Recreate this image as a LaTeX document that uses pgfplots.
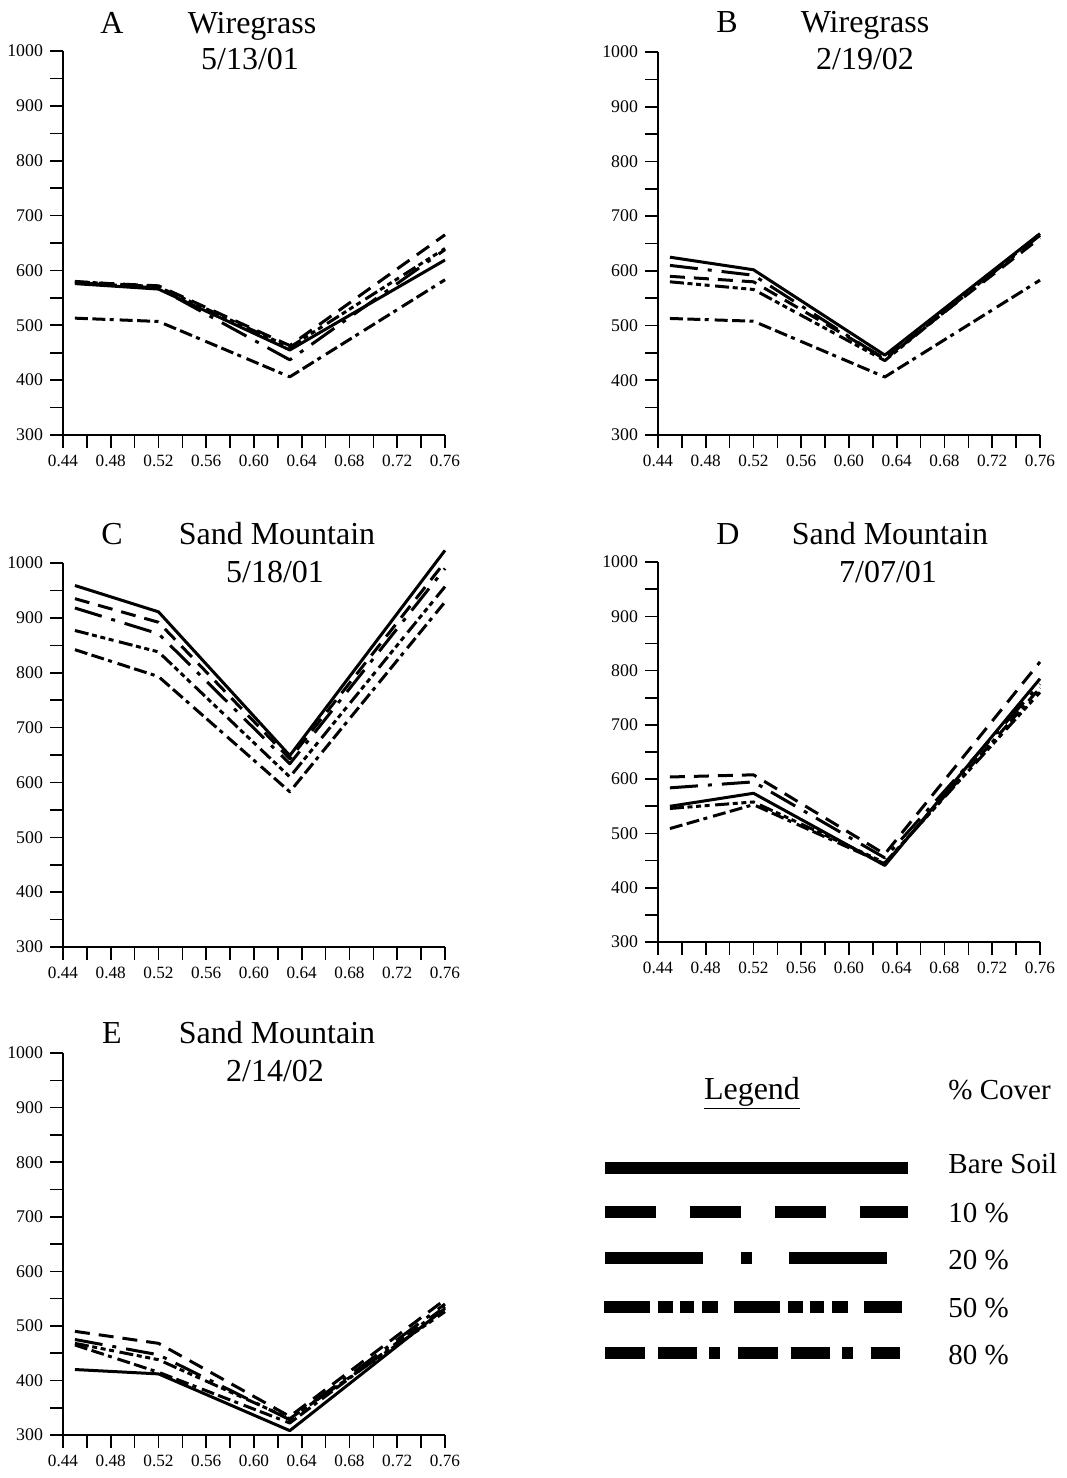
\documentclass[border=0pt]{standalone}
\usepackage{fontspec}
\setmainfont{Liberation Serif}
\usepackage{pgfplots}
\usepackage{pgfplotstable}
\pgfplotsset{compat=1.18}

% reflectance by wavelength (um), one column per % cover
\pgfplotstableread{
x     bare  c10  c20  c50  c80
0.45  576   579  578  580  513
0.52  566   572  568  570  507
0.63  455   463  437  460  406
0.76  619   665  638  640  583
}\dataA
\pgfplotstableread{
x     bare  c10  c20  c50  c80
0.45  625   590  610  580  513
0.52  602   580  592  566  508
0.63  446   440  438  436  406
0.76  668   660  665  668  583
}\dataB
\pgfplotstableread{
x     bare  c10  c20  c50  c80
0.45  959   935  918  877  842
0.52  911   892  871  838  793
0.63  649   643  634  610  583
0.76  1023  1002 990  957  929
}\dataC
\pgfplotstableread{
x     bare  c10  c20  c50  c80
0.45  550   604  584  546  509
0.52  574   608  595  558  553
0.63  441   462  455  446  444
0.76  785   816  775  760  768
}\dataD
\pgfplotstableread{
x     bare  c10  c20  c50  c80
0.45  420   490  475  468  465
0.52  412   468  447  438  415
0.63  308   334  328  330  322
0.76  532   548  540  526  535
}\dataE

\tikzset{
  bare/.style={solid},
  c10/.style={dash pattern=on 7.5pt off 4.5pt},
  c20/.style={dash pattern=on 14pt off 5pt on 2pt off 5pt},
  c50/.style={dash pattern=on 7pt off 1.8pt on 2.5pt off 1.8pt on 2.5pt off 1.8pt on 2.5pt off 2.8pt},
  c80/.style={dash pattern=on 6.5pt off 2.2pt on 6.5pt off 2.2pt on 2pt off 3pt},
}

\pgfplotsset{
  panel/.style={
    scale only axis, width=191pt, anchor=south west,
    xmin=0.44, xmax=0.76, ymin=300, ymax=1000,
    axis lines=left, axis line style={-, line width=0.8pt},
    clip=false,
    xtick={0.44,0.48,0.52,0.56,0.60,0.64,0.68,0.72,0.76},
    xticklabels={0.44,0.48,0.52,0.56,0.60,0.64,0.68,0.72,0.76},
    minor xtick={0.46,0.50,0.54,0.58,0.62,0.66,0.70,0.74},
    ytick={300,400,500,600,700,800,900,1000},
    yticklabels={300,400,500,600,700,800,900,1000},
    minor ytick={350,450,550,650,750,850,950},
    tick align=outside, major tick length=6.5pt, minor tick length=6.5pt,
    tick style={black, line width=0.8pt},
    xticklabel style={font=\fontsize{8.6}{10}\selectfont},
    yticklabel style={font=\fontsize{8.9}{10}\selectfont},
    every axis plot/.append style={black, line width=1.5pt, line join=round},
  }
}

\newcommand{\coverlines}[1]{%
  \addplot[c80] table[x=x, y=c80] {#1};
  \addplot[c50] table[x=x, y=c50] {#1};
  \addplot[c20] table[x=x, y=c20] {#1};
  \addplot[c10] table[x=x, y=c10] {#1};
  \addplot[bare] table[x=x, y=bare] {#1};
}

\begin{document}
\begin{tikzpicture}
\useasboundingbox (0,0) rectangle (533pt,-739pt);
\tikzset{ttl/.style={anchor=base, font=\fontsize{16}{18}\selectfont}}

\begin{axis}[panel, at={(31.5pt,-217.5pt)}, height=192pt]
\coverlines{\dataA}
\end{axis}
\node[ttl] at (56pt,-16.5pt) {A};
\node[ttl] at (126pt,-16.5pt) {Wiregrass};
\node[ttl] at (125pt,-34.7pt) {5/13/01};

\begin{axis}[panel, at={(329pt,-217.5pt)}, height=191.5pt]
\coverlines{\dataB}
\end{axis}
\node[ttl] at (363.5pt,-16pt) {B};
\node[ttl] at (432.5pt,-16pt) {Wiregrass};
\node[ttl] at (432.5pt,-34.5pt) {2/19/02};

\begin{axis}[panel, at={(31.5pt,-473.5pt)}, height=192pt]
\coverlines{\dataC}
\end{axis}
\node[ttl] at (56pt,-272pt) {C};
\node[ttl] at (138.5pt,-272pt) {Sand Mountain};
\node[ttl] at (137.5pt,-291pt) {5/18/01};

\begin{axis}[panel, at={(329pt,-471pt)}, height=190pt]
\coverlines{\dataD}
\end{axis}
\node[ttl] at (364pt,-272pt) {D};
\node[ttl] at (445pt,-272pt) {Sand Mountain};
\node[ttl] at (444pt,-291pt) {7/07/01};

\begin{axis}[panel, at={(31.5pt,-717.5pt)}, height=191pt]
\coverlines{\dataE}
\end{axis}
\node[ttl] at (56pt,-521.5pt) {E};
\node[ttl] at (138.5pt,-521.5pt) {Sand Mountain};
\node[ttl] at (137.5pt,-540.5pt) {2/14/02};

% legend
\node[anchor=base, font=\fontsize{16}{18}\selectfont] at (376pt,-549.5pt) {\underline{Legend}};
\node[anchor=base west, inner sep=0pt, font=\fontsize{14.5}{17}\selectfont] at (474pt,-549.5pt) {\% Cover};
\begin{scope}[line width=6pt, line cap=butt]
\draw[bare] (302.5pt,-584pt) -- (454pt,-584pt);
\draw[dash pattern=on 25.5pt off 17pt] (302.5pt,-605.8pt) -- (454pt,-605.8pt);
\draw[dash pattern=on 49pt off 19pt on 5.5pt off 18.5pt] (302.5pt,-629pt) -- (447.5pt,-629pt);
\draw[dash pattern=on 23pt off 4pt on 7.5pt off 3.5pt on 7pt off 4pt on 8pt off 8pt] (302pt,-653.3pt) -- (451pt,-653.3pt);
\draw[dash pattern=on 20pt off 6.5pt on 19.5pt off 6pt on 5.5pt off 9pt] (302.5pt,-676.3pt) -- (450pt,-676.3pt);
\end{scope}
\begin{scope}[every node/.style={anchor=base west, inner sep=0pt, font=\fontsize{14.5}{17}\selectfont}]
\node at (474pt,-586.5pt) {Bare Soil};
\node at (474pt,-611pt) {10 \%};
\node at (474pt,-634.5pt) {20 \%};
\node at (474pt,-658.5pt) {50 \%};
\node at (474pt,-682pt) {80 \%};
\end{scope}
\end{tikzpicture}
\end{document}
